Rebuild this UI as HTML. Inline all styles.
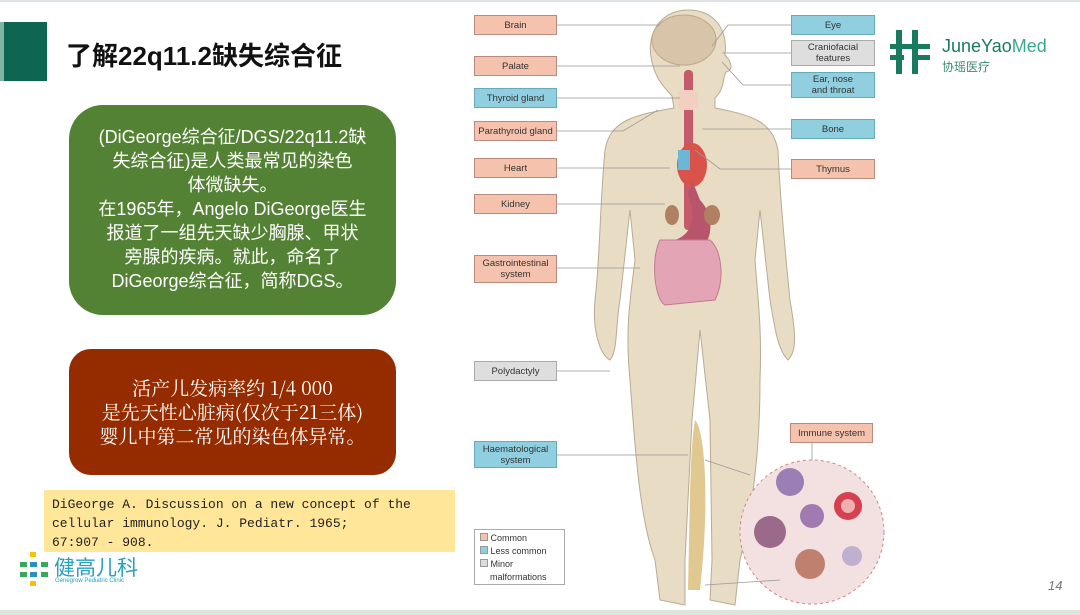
<!DOCTYPE html>
<html><head><meta charset="utf-8"><style>
body{margin:0;width:1080px;height:615px;background:#fff;position:relative;overflow:hidden;font-family:"Liberation Sans","Noto Sans CJK SC",sans-serif}
.a{position:absolute}
.lb{position:absolute;font-size:9.5px;color:#333;text-align:center;display:flex;align-items:center;justify-content:center;line-height:11px;box-sizing:border-box;border:1px solid #b98b7c}
.p{background:#f5c2ae}
.b{background:#8fcfe0;border-color:#6aa9bb}
.g{background:#dedede;border-color:#aaa}
</style></head><body>
<div class="a" style="left:0;top:0;width:1080px;height:2px;background:#dde2e6"></div>
<div class="a" style="left:0;top:22px;width:4px;height:59px;background:#7fb3a2"></div>
<div class="a" style="left:4px;top:22px;width:43px;height:59px;background:#0f6650"></div>
<div class="a" style="left:66px;top:36px;font-size:26px;font-weight:bold;color:#111">了解22q11.2缺失综合征</div>
<div class="a" style="left:69px;top:105px;width:327px;height:210px;background:#548235;border-radius:34px;color:#fff;font-size:18px;line-height:24px;text-align:center;padding-top:20px;box-sizing:border-box">(DiGeorge综合征/DGS/22q11.2缺<br>失综合征)是人类最常见的染色<br>体微缺失。<br>在1965年，Angelo DiGeorge医生<br>报道了一组先天缺少胸腺、甲状<br>旁腺的疾病。就此，命名了<br>DiGeorge综合征，简称DGS。</div>
<div class="a" style="left:69px;top:349px;width:327px;height:126px;background:#952c00;border-radius:22px;color:#fff;font-size:19px;line-height:24px;text-align:center;padding-top:27px;box-sizing:border-box;font-family:'Noto Serif CJK SC','Liberation Serif',serif">活产儿发病率约 1/4 000<br>是先天性心脏病(仅次于21三体)<br>婴儿中第二常见的染色体异常。</div>
<div class="a" style="left:44px;top:490px;width:411px;height:62px;background:#ffe699;font-family:'Liberation Mono',monospace;font-size:13px;line-height:19px;padding:5px 0 0 8px;box-sizing:border-box;color:#222">DiGeorge A. Discussion on a new concept of the<br>cellular immunology. J. Pediatr. 1965;<br>67:907 - 908.</div>
<svg class="a" style="left:20px;top:550px" width="40" height="40"><rect x="10" y="2" width="6" height="5" fill="#f5c400"/><rect x="0" y="12" width="7" height="5" fill="#3aa85a"/><rect x="10" y="12" width="7" height="5" fill="#2a90c0"/><rect x="21" y="12" width="7" height="5" fill="#3aa85a"/><rect x="0" y="22" width="7" height="5" fill="#3aa85a"/><rect x="10" y="22" width="7" height="5" fill="#2a90c0"/><rect x="21" y="22" width="7" height="5" fill="#3aa85a"/><rect x="10" y="31" width="6" height="5" fill="#f5c400"/></svg>
<div class="a" style="left:54px;top:552px;font-size:21px;color:#2aa0c0">健高儿科</div>
<div class="a" style="left:55px;top:578px;font-size:6px;color:#2aa0c0">Genegrow Pediatric Clinic</div>
<div class="a" style="left:0;top:610px;width:1080px;height:5px;background:#dde5dd"></div>
<div class="a" style="left:1048px;top:578px;font-size:13px;color:#777;font-style:italic">14</div>

<svg class="a" style="left:460px;top:0" width="430" height="615">
<g fill="#e8dcc4" stroke="#b9ab93" stroke-width="1">
<path d="M228 10 C200 10 185 35 192 62 C196 80 205 88 212 96 L214 108 C175 115 150 120 145 150 C140 200 140 260 135 300 C132 330 140 355 150 360 C158 350 155 330 160 300 L170 210 L175 260 C170 300 165 330 170 380 C175 450 180 520 195 560 L200 600 L225 605 L225 560 L232 420 L240 330 L250 420 L252 560 L250 600 L275 605 L280 560 C295 500 300 440 300 380 C302 330 298 300 295 260 L300 210 L310 300 C315 330 318 350 328 360 C338 350 335 330 330 300 C326 260 320 200 318 150 C312 120 290 115 255 108 L255 98 C265 88 262 80 266 72 C275 70 270 60 265 55 C268 30 255 10 228 10Z"/>
</g>
<ellipse cx="224" cy="40" rx="32" ry="25" fill="#d8c4a8" stroke="#c0a88a"/>
<rect x="224" y="70" width="9" height="160" rx="4" fill="#c55a6a"/>
<rect x="218" y="90" width="20" height="20" rx="5" fill="#f2d0c0"/>
<ellipse cx="232" cy="165" rx="15" ry="22" fill="#d9534a"/>
<rect x="218" y="150" width="12" height="20" fill="#6cb6d6"/>
<path d="M232 180 L240 200 C250 210 255 230 245 245 C235 255 220 250 215 240 C230 235 238 220 228 195Z" fill="#b8546c"/>
<ellipse cx="212" cy="215" rx="7" ry="10" fill="#b08060"/><ellipse cx="252" cy="215" rx="8" ry="10" fill="#b08060"/>
<path d="M200 240 C190 260 195 300 205 305 L255 300 C265 280 262 250 250 240 Z" fill="#e3a5b5" stroke="#c37a90"/>
<path d="M235 420 C245 430 250 500 240 590 L228 590 C230 500 230 450 235 420Z" fill="#e0c890"/>
<circle cx="352" cy="532" r="72" fill="#f3e0e0" stroke="#c88" stroke-dasharray="3 3"/>
<g stroke="#aa" fill="none"></g>
<circle cx="330" cy="482" r="14" fill="#9b7fb4"/><circle cx="388" cy="506" r="14" fill="#d64050"/><circle cx="388" cy="506" r="7" fill="#f0b0b0"/>
<circle cx="352" cy="516" r="12" fill="#a07ab0"/><circle cx="310" cy="532" r="16" fill="#9b6a8a"/><circle cx="350" cy="564" r="15" fill="#c08070"/><circle cx="392" cy="556" r="10" fill="#c0b0d0"/>
<g stroke="#999" stroke-width="0.8" fill="none">
<path d="M97 25 H200"/><path d="M97 66 H220"/><path d="M97 98 H220"/><path d="M97 131 H163 L198 110"/><path d="M97 168 H210"/><path d="M97 204 H205"/><path d="M97 268 H180"/><path d="M97 371 H150"/><path d="M97 455 H228"/>
<path d="M331 25 H268 L252 46"/><path d="M331 53 H262"/><path d="M331 85 H283 L262 62"/><path d="M331 129 H242"/><path d="M331 169 H260 L235 150"/><path d="M352 442 V460"/><path d="M245 460 L290 475"/><path d="M245 585 L320 580"/>
</g>
</svg>
<div class="lb p" style="left:474px;top:15px;width:83px;height:20px">Brain</div>
<div class="lb p" style="left:474px;top:56px;width:83px;height:20px">Palate</div>
<div class="lb b" style="left:474px;top:88px;width:83px;height:20px">Thyroid gland</div>
<div class="lb p" style="left:474px;top:121px;width:83px;height:20px">Parathyroid gland</div>
<div class="lb p" style="left:474px;top:158px;width:83px;height:20px">Heart</div>
<div class="lb p" style="left:474px;top:194px;width:83px;height:20px">Kidney</div>
<div class="lb p" style="left:474px;top:255px;width:83px;height:28px">Gastrointestinal<br>system</div>
<div class="lb g" style="left:474px;top:361px;width:83px;height:20px">Polydactyly</div>
<div class="lb b" style="left:474px;top:441px;width:83px;height:27px">Haematological<br>system</div>
<div class="lb b" style="left:791px;top:15px;width:84px;height:20px">Eye</div>
<div class="lb g" style="left:791px;top:40px;width:84px;height:26px">Craniofacial<br>features</div>
<div class="lb b" style="left:791px;top:72px;width:84px;height:26px">Ear, nose<br>and throat</div>
<div class="lb b" style="left:791px;top:119px;width:84px;height:20px">Bone</div>
<div class="lb p" style="left:791px;top:159px;width:84px;height:20px">Thymus</div>
<div class="lb p" style="left:790px;top:423px;width:83px;height:20px">Immune system</div>
<div class="a" style="left:474px;top:529px;width:91px;height:56px;border:1px solid #aaa;box-sizing:border-box;font-size:9px;color:#333;line-height:13px;padding:2px 0 0 5px">
<span style="display:inline-block;width:6px;height:6px;background:#f5c2ae;border:1px solid #999"></span> Common<br>
<span style="display:inline-block;width:6px;height:6px;background:#8fcfe0;border:1px solid #999"></span> Less common<br>
<span style="display:inline-block;width:6px;height:6px;background:#ddd;border:1px solid #999"></span> Minor<br>&nbsp;&nbsp;&nbsp;&nbsp;malformations</div>
<svg class="a" style="left:890px;top:30px" width="45" height="45"><g fill="#1a7a60"><rect x="6" y="0" width="6" height="44"/><rect x="22" y="0" width="6" height="44"/><rect x="0" y="14" width="40" height="5"/><rect x="0" y="25" width="14" height="5"/><rect x="26" y="25" width="14" height="5"/></g></svg>
<div class="a" style="left:942px;top:36px;font-size:18px;color:#1a7a60">JuneYao<span style="color:#3aa890">Med</span></div>
<div class="a" style="left:942px;top:58px;font-size:12px;color:#3a8a70">协瑶医疗</div>
</body></html>
